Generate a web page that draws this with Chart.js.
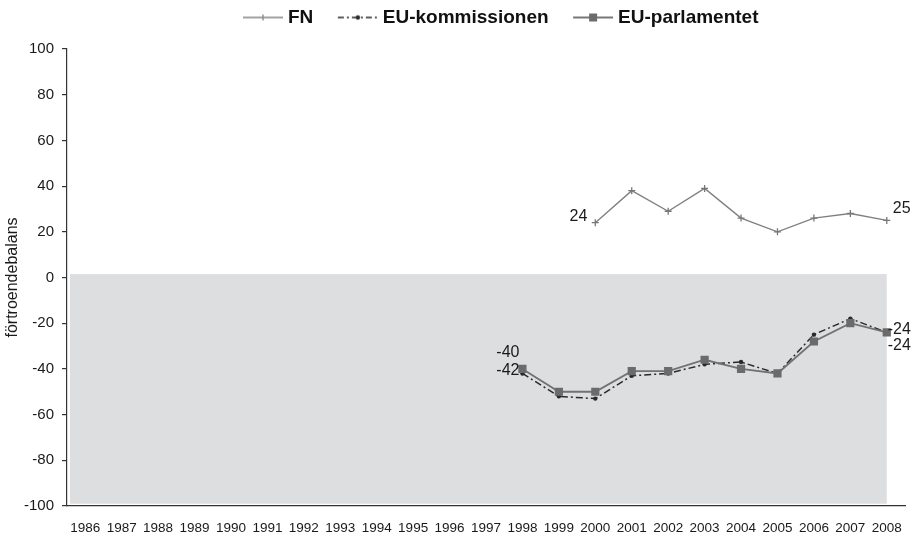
<!DOCTYPE html>
<html>
<head>
<meta charset="utf-8">
<script src="https://cdn.jsdelivr.net/npm/chart.js@4.4.1/dist/chart.umd.min.js"></script>
<style>
html,body{margin:0;padding:0;background:#ffffff;}
#wrap{width:920px;height:537px;}
</style>
</head>
<body>
<div id="wrap"><canvas id="c" width="920" height="537"></canvas></div>
<script>
// ---- data ----
const years = ['1986','1987','1988','1989','1990','1991','1992','1993','1994','1995','1996','1997','1998','1999','2000','2001','2002','2003','2004','2005','2006','2007','2008'];
const seriesNames = ['FN', 'EU-kommissionen', 'EU-parlamentet'];
const fnValues   = [null,null,null,null,null,null,null,null,null,null,null,null,null,null, 24, 38, 29, 39, 26, 20, 26, 28, 25];
const kommValues = [null,null,null,null,null,null,null,null,null,null,null,null, -42, -52, -53, -43, -42, -38, -37, -42, -25, -18, -24];
const parlValues = [null,null,null,null,null,null,null,null,null,null,null,null, -40, -50, -50, -41, -41, -36, -40, -42, -28, -20, -24];
const yMin = -100, yMax = 100, yStep = 20;
const yTitle = 'förtroendebalans';
const shadedRange = [1.5, -99];   // value range of the grey band

// which points carry a value label (series index, year)
const labelledPoints = [
  { series: 0, year: '2000' },
  { series: 0, year: '2008' },
  { series: 2, year: '1998' },
  { series: 1, year: '1998' },
  { series: 2, year: '2008' },
  { series: 1, year: '2008' }
];
// styling of those labels (offsets in px, alignment)
const labelStyles = [
  { align: 'right', dx: -8, dy: -6 },
  { align: 'left',  dx: 6,  dy: -12 },
  { align: 'right', dx: -3, dy: -16 },
  { align: 'right', dx: -3, dy: -3 },
  { align: 'left',  dx: 1,  dy: -3 },
  { align: 'left',  dx: 1,  dy: 13 }
];

const FONT = '"Liberation Sans", Arial, Helvetica, sans-serif';
Chart.defaults.font.family = FONT;
Chart.defaults.color = '#1a1a1a';

// ---- legend icons (line + marker) ----
function makeIcon(kind) {
  const cv = document.createElement('canvas');
  cv.width = 59; cv.height = 14;
  const g = cv.getContext('2d');
  const x0 = 19, x1 = 59, cx = 39, cy = 7;
  if (kind === 0) {
    g.strokeStyle = '#858585'; g.lineWidth = 1.3;
    g.beginPath(); g.moveTo(x0, cy); g.lineTo(x1, cy); g.stroke();
    g.beginPath(); g.moveTo(cx, cy - 3); g.lineTo(cx, cy + 3); g.stroke();
  } else if (kind === 1) {
    g.strokeStyle = '#2a2a2a'; g.lineWidth = 1.5;
    g.setLineDash([6, 3, 2, 3]);
    g.beginPath(); g.moveTo(x0, cy); g.lineTo(x1, cy); g.stroke();
    g.setLineDash([]);
    g.fillStyle = '#2a2a2a';
    g.beginPath(); g.arc(cx, cy, 2.2, 0, Math.PI * 2); g.fill();
  } else {
    g.strokeStyle = '#777777'; g.lineWidth = 1.8;
    g.beginPath(); g.moveTo(x0, cy); g.lineTo(x1, cy); g.stroke();
    g.fillStyle = '#6b6b6b';
    g.fillRect(cx - 4, cy - 4, 8, 8);
  }
  return cv;
}
const legendIcons = [makeIcon(0), makeIcon(1), makeIcon(2)];

// ---- plugins ----
const bandPlugin = {
  id: 'band',
  beforeDatasetsDraw(chart) {
    const { ctx, chartArea, scales: { x, y } } = chart;
    const x0 = chartArea.left + 3;
    const x1 = x.getPixelForValue(years.length - 1);
    const y0 = y.getPixelForValue(shadedRange[0]);
    const y1 = y.getPixelForValue(shadedRange[1]);
    ctx.save();
    ctx.fillStyle = '#dddee0';
    ctx.fillRect(x0, y0, x1 - x0, y1 - y0);
    ctx.restore();
  }
};

const valueLabelPlugin = {
  id: 'valueLabels',
  afterDatasetsDraw(chart) {
    const { ctx, scales: { x, y } } = chart;
    ctx.save();
    ctx.font = '16px ' + FONT;
    ctx.fillStyle = '#1a1a1a';
    ctx.textBaseline = 'middle';
    labelledPoints.forEach((p, i) => {
      const st = labelStyles[i];
      const idx = years.indexOf(p.year);
      const v = chart.data.datasets[p.series].data[idx];
      const px = x.getPixelForValue(idx);
      const py = y.getPixelForValue(v);
      ctx.textAlign = st.align;
      ctx.fillText(String(v), px + st.dx, py + st.dy);
    });
    ctx.restore();
  }
};

const legendShift = {
  id: 'legendShift',
  afterLayout(chart) {
    const L = chart.legend;
    if (!L) return;
    L.left += 41; L.right += 41;
    L.top -= 12; L.bottom -= 12;
  }
};

new Chart(document.getElementById('c'), {
  type: 'line',
  data: {
    labels: years,
    datasets: [
      {
        label: seriesNames[0],
        data: fnValues,
        borderColor: '#808080',
        borderWidth: 1.4,
        pointStyle: 'cross',
        pointRadius: 3.5,
        pointBorderWidth: 1.3,
        pointBorderColor: '#777777',
        pointBackgroundColor: '#777777',
        order: 2
      },
      {
        label: seriesNames[1],
        data: kommValues,
        borderColor: '#2a2a2a',
        borderWidth: 1.5,
        borderDash: [7, 3, 2, 3],
        pointStyle: 'circle',
        pointRadius: 2.2,
        pointBorderWidth: 0,
        pointBackgroundColor: '#2a2a2a',
        order: 1
      },
      {
        label: seriesNames[2],
        data: parlValues,
        borderColor: '#727272',
        borderWidth: 1.8,
        pointStyle: 'rect',
        pointRadius: 5.8,
        pointBorderWidth: 0,
        pointBackgroundColor: '#6b6b6b',
        order: 0
      }
    ]
  },
  options: {
    responsive: false,
    animation: false,
    layout: { padding: { top: 10, left: 0, right: 15, bottom: 0 } },
    plugins: {
      tooltip: { enabled: false },
      legend: {
        position: 'top',
        labels: {
          usePointStyle: true,
          pointStyleWidth: 50,
          padding: 10,
          color: '#111111',
          font: { size: 19, weight: 'bold', family: FONT },
          sort: (a, b) => a.datasetIndex - b.datasetIndex,
          generateLabels(chart) {
            const items = Chart.defaults.plugins.legend.labels.generateLabels(chart);
            items.forEach(it => { it.pointStyle = legendIcons[it.datasetIndex]; });
            return items;
          }
        }
      }
    },
    scales: {
      x: {
        type: 'category',
        offset: true,
        grid: { display: false },
        border: { display: true, color: '#333333', width: 1.2 },
        ticks: { padding: 6, maxRotation: 0, autoSkip: false, color: '#1a1a1a', font: { size: 13.5 } },
        afterFit(s) { s.height = 31; }
      },
      y: {
        min: yMin,
        max: yMax,
        ticks: { stepSize: yStep, padding: 8, color: '#1a1a1a', font: { size: 15 } },
        grid: { drawOnChartArea: false, drawTicks: true, tickLength: 5, color: '#333333', lineWidth: 1.2 },
        border: { display: true, color: '#333333', width: 1.2 },
        title: { display: true, text: yTitle, color: '#1a1a1a', font: { size: 16 }, padding: { top: 3, bottom: 4 } },
        afterFit(s) { s.width = 67; }
      }
    }
  },
  plugins: [bandPlugin, valueLabelPlugin, legendShift]
});
</script>
</body>
</html>
